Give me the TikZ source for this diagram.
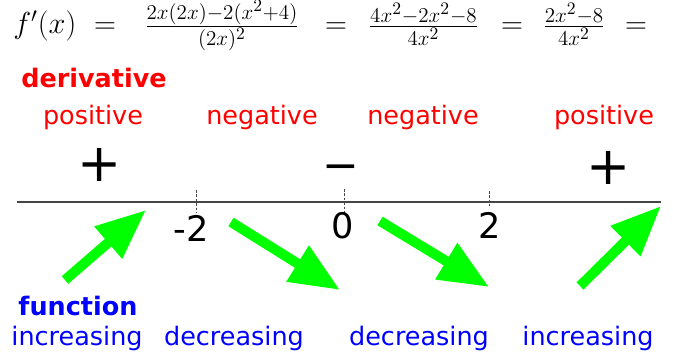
\documentclass[tikz,border=0pt]{standalone}
\usepackage{amsmath}
\usepackage{fontspec}
\newfontfamily\dejavu{DejaVu Sans}
\DeclareMathSizes{17.28}{17.28}{12.9}{10}
\usepackage{xcolor}
\definecolor{dervred}{RGB}{255,0,0}
\definecolor{funcblue}{RGB}{0,0,255}
\definecolor{trendgrn}{RGB}{0,255,0}
\definecolor{axisgray}{RGB}{70,70,70}
\usepackage{tikz}
\usetikzlibrary{arrows.meta, positioning}
\tikzset{
  eqtext/.style={font=\fontsize{17.28}{20}\selectfont, inner sep=0pt, anchor=base},
  dlabel/.style={font=\dejavu\fontsize{14.5}{17}\selectfont,
    text=dervred, inner sep=0pt},
  dhead/.style={dlabel, font=\dejavu\bfseries\fontsize{14.5}{17}\selectfont},
  flabel/.style={font=\dejavu\fontsize{14.5}{17}\selectfont,
    text=funcblue, inner sep=0pt},
  fhead/.style={flabel, font=\dejavu\bfseries\fontsize{14.5}{17}\selectfont},
  sign/.style={font=\dejavu\fontsize{30}{32}\selectfont, inner sep=0pt},
  ticklbl/.style={font=\dejavu\fontsize{20}{22}\selectfont, inner sep=0pt},
  axisline/.style={axisgray, line width=0.8pt},
  tickmark/.style={axisgray, line width=0.5pt, dash pattern=on 1.5pt off 1pt},
  trend/.style={-{Triangle[length=1.0cm, width=0.8cm]},
    line width=0.2cm, trendgrn},
}

\begin{document}
\begin{tikzpicture}[x=0.02cm, y=0.02cm]
  \useasboundingbox (0,0) rectangle (673,354);
  % quotient rule
  \node[eqtext, anchor=base west] (fx) at (13,320) {$f'(x)$};
  \node[eqtext] (eqa) at (105,320) {$=$};
  \node[eqtext] (qa) at (222,320) {$\frac{2x(2x)-2(x^2+4)}{(2x)^2}$};
  \node[eqtext] (eqb) at (336,320) {$=$};
  \node[eqtext] (qb) at (423.5,320) {$\frac{4x^2-2x^2-8}{4x^2}$};
  \node[eqtext] (eqc) at (512,320) {$=$};
  \node[eqtext] (qc) at (574,320) {$\frac{2x^2-8}{4x^2}$};
  \node[eqtext] (eqd) at (636,320) {$=$};

  % sign of f'
  \node[dhead] (dtitle) at (94,276) {derivative};
  \node[dlabel] (pos1) at (93,237) {positive};
  \node[dlabel] (neg1) at (262,237) {negative};
  \node[dlabel] (neg2) at (423,237) {negative};
  \node[dlabel] (pos2) at (604,237) {positive};
  \node[sign] (plus1) at (100,189) {+};
  \node[sign, font=\dejavu\fontsize{25}{27}\selectfont, anchor=base]
    (minus) at (340.5,173.5) {−};
  \node[sign] (plus2) at (609,186) {+};

  % number line
  \coordinate (axl) at (17,152);
  \coordinate (axr) at (661,152);
  \draw[axisline] (axl) -- (axr);
  \coordinate (tka) at (196,164); \coordinate (tkab) at (196,142);
  \coordinate (tkb) at (344,165); \coordinate (tkbb) at (344,141);
  \coordinate (tkc) at (489,163); \coordinate (tkcb) at (489,148);
  \draw[tickmark] (tka) -- (tkab);
  \draw[tickmark] (tkb) -- (tkbb);
  \draw[tickmark] (tkc) -- (tkcb);
  \node[ticklbl] (lbla) at (191,126) {-2};
  \node[ticklbl] (lblb) at (343,128) {0};
  \node[ticklbl] (lblc) at (489.5,128.5) {2};

  % behaviour of f
  \coordinate (t1s) at (65,74);  \coordinate (t1e) at (146,144);
  \coordinate (t2s) at (231,132); \coordinate (t2e) at (340,64);
  \coordinate (t3s) at (380,133); \coordinate (t3e) at (489,67);
  \coordinate (t4s) at (580,68);  \coordinate (t4e) at (661,148);
  \draw[trend] (t1s) -- (t1e);
  \draw[trend] (t2s) -- (t2e);
  \draw[trend] (t3s) -- (t3e);
  \draw[trend] (t4s) -- (t4e);

  \node[fhead] (ftitle) at (78,48) {function};
  \node[flabel] (inc1) at (77,16) {increasing};
  \node[flabel] (dec1) at (234,16) {decreasing};
  \node[flabel] (dec2) at (419,16) {decreasing};
  \node[flabel] (inc2) at (588,16) {increasing};
\end{tikzpicture}
\end{document}
